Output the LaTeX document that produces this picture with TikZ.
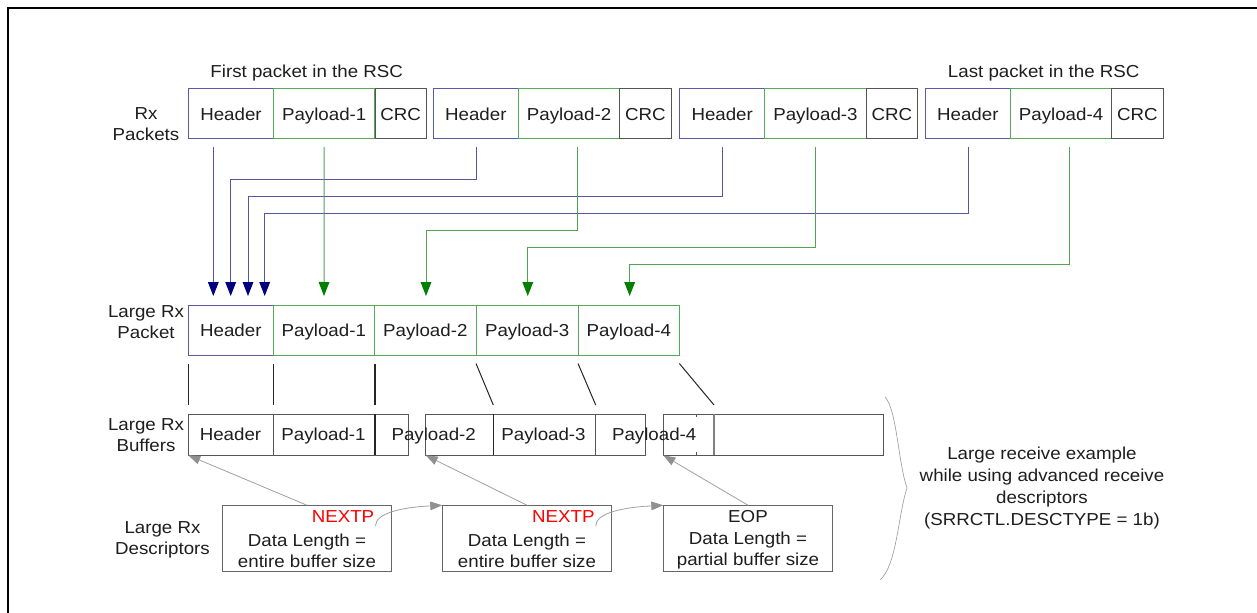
\documentclass[tikz,border=0pt]{standalone}
\usepackage{fontspec}
\setmainfont{Liberation Sans}[FakeStretch=1.08]
\usetikzlibrary{arrows.meta,calc}
\definecolor{hblue}{RGB}{90,90,170}
\definecolor{pgreen}{RGB}{85,170,85}
\definecolor{cgray}{RGB}{85,85,85}
\definecolor{cblue}{RGB}{85,85,165}
\definecolor{cgreen}{RGB}{80,165,80}
\definecolor{navyc}{RGB}{0,0,127}
\definecolor{dgreen}{RGB}{0,127,0}
\definecolor{lgray}{RGB}{160,160,160}
\definecolor{txt}{RGB}{30,30,30}
\tikzset{
  anybox/.style={draw, inner sep=0pt, outer sep=0pt, anchor=north west, line width=0.75pt, text=txt, minimum height=37.5pt, text height=9.3pt, text depth=0pt},
  hbox/.style={anybox, draw=hblue},
  pbox/.style={anybox, draw=pgreen},
  cbox/.style={anybox, draw=cgray},
  bufbox/.style={anybox, draw=cgray, minimum height=31pt, minimum width=165pt},
  descbox/.style={anybox, draw=cgray!90, minimum height=50pt, minimum width=127.2pt},
  lbl/.style={align=center, text=txt, inner sep=0pt},
  one/.style={lbl, text height=9.3pt, text depth=0pt},
  bconn/.style={draw=cblue, line width=0.75pt, -{Triangle[length=10.5pt,width=8pt,color=navyc]}},
  gconn/.style={draw=cgreen, line width=0.75pt, -{Triangle[length=10.5pt,width=8pt,color=dgreen]}},
  tie/.style={draw=black!85, line width=0.75pt},
  garrow/.style={draw=lgray, line width=0.6pt, -{Triangle[length=9pt,width=6.5pt,color=lgray!90!black]}},
  divider/.style={draw=cgray, line width=0.75pt}
}
\begin{document}
\begin{tikzpicture}[x=0.75pt,y=-0.75pt,font=\fontsize{13}{15.75}\selectfont]
\useasboundingbox (0,0) rectangle (1257,613);
\clip (0,0) rectangle (1257,613);
\fill[white] (0,0) rectangle (1257,613);
\draw[line width=1.5pt] (8,8) rectangle (1290,650);

% top row packets
\foreach \i/\s in {1/188.5,2/433.3,3/679.7,4/925.3}{
  \node[hbox, minimum width=63.75pt] (h\i) at (\s,89) {Header};
  \node[pbox, minimum width=76.1pt] (p\i) at (\s+85,89) {Payload-\i};
  \node[cbox, minimum width=38.5pt] (c\i) at (\s+186.5,89) {CRC};
}
\node[one] (first) at (306.7,71.5) {First packet in the RSC};
\node[one] (last) at (1043.7,71.5) {Last packet in the RSC};
\node[lbl] (rxl) at (146,124) {Rx\\Packets};

% large rx packet
\node[hbox, minimum width=63.75pt] (mh) at (188.3,305.5) {Header};
\node[pbox, minimum width=75.75pt] (mp1) at (273.3,305.5) {Payload-1};
\node[pbox, minimum width=76.5pt] (mp2) at (374.3,305.5) {Payload-2};
\node[pbox, minimum width=76.3pt] (mp3) at (476.3,305.5) {Payload-3};
\node[pbox, minimum width=76.3pt] (mp4) at (578,305.5) {Payload-4};
\node[lbl] (lpl) at (146,322.5) {Large Rx\\Packet};

% header connectors
\draw[bconn] ($(h1.south west)+(24.8,8)$) -- ($(mh.north west)+(25,-9.5)$);
\draw[bconn] ($(h2.south)+(0.5,8)$) -- ++(0,33) -| ($(mh.north west)+(42.4,-9.5)$);
\draw[bconn] ($(h3.south)+(0,8)$) -- ++(0,50) -| ($(mh.north west)+(59.7,-9.5)$);
\draw[bconn] ($(h4.south)+(0.3,8)$) -- ++(0,67) -| ($(mh.north west)+(76.4,-9.5)$);
% payload connectors
\draw[gconn] ($(p1.south)+(0,8)$) -- ($(mp1.north)+(0.2,-9.5)$);
\draw[gconn] ($(p2.south)+(8.4,8)$) -- ++(0,83.5) -| ($(mp2.north)+(0.7,-9.5)$);
\draw[gconn] ($(p3.south)+(0.1,8)$) -- ++(0,100.3) -| ($(mp3.north)+(0.6,-9.5)$);
\draw[gconn] ($(p4.south)+(8.5,8)$) -- ++(0,117) -| ($(mp4.north)+(0.8,-9.5)$);

% buffers
\node[bufbox] (buf1) at (188.3,414) {};
\node[bufbox, minimum width=165.2pt] (buf2) at (425.7,414) {};
\node[bufbox] (buf3) at (663.3,414) {};
\draw[divider] ($(buf1.north west)+(85,0)$) -- ($(buf1.south west)+(85,0)$);
\draw[divider, draw=black!85, line width=1.2pt] ($(buf1.north west)+(186.7,0)$) -- ($(buf1.south west)+(186.7,0)$);
\draw[divider, draw=black!85] ($(buf2.north west)+(67.6,0)$) -- ($(buf2.south west)+(67.6,0)$);
\draw[divider] ($(buf2.north west)+(170,0)$) -- ($(buf2.south west)+(170,0)$);
\draw[divider, draw=gray, line width=1.2pt] ($(buf3.north west)+(50.7,0)$) -- ($(buf3.south west)+(50.7,0)$);
\draw[divider] ($(buf3.north west)+(33.4,0)$) -- ++(0,3);
\draw[divider] ($(buf3.south west)+(33.4,0)$) -- ++(0,-3);
\node[one] (bt0) at (230.5,434) {Header};
\node[one] (bt1) at (323.5,434) {Payload-1};
\node[one] (bt2) at (433.7,434) {Payload-2};
\node[one] (bt3) at (543.5,434) {Payload-3};
\node[one] (bt4) at (654.2,434) {Payload-4};
\node[lbl] (lbl3) at (146,435.5) {Large Rx\\Buffers};

% ties between packet and buffers
\draw[tie] ($(mh.south west)+(0,8)$) -- ($(buf1.north west)+(0,-9)$);
\draw[tie] ($(mh.south east)+(0,8)$) -- ($(buf1.north west)+(85,-9)$);
\draw[tie, line width=1.2pt] ($(mp1.south east)+(0.7,8)$) -- ($(buf1.north west)+(186.7,-9)$);
\draw[tie] ($(mp2.south east)+(-0.3,8)$) -- ($(buf2.north west)+(67.6,-9)$);
\draw[tie] ($(mp3.south east)+(0,8)$) -- ($(buf2.north west)+(170,-9)$);
\draw[tie] ($(mp4.south east)+(-0.4,8)$) -- ($(buf3.north west)+(50.7,-9)$);

% descriptors
\node[descbox] (d1) at (222.3,505.3) {};
\node[descbox] (d2) at (442.3,505.3) {};
\node[descbox] (d3) at (663.3,505.3) {};
\node[one, text=red] (n1) at (343,516.5) {NEXTP};
\node[one, text=red] (n2) at (563.3,516.5) {NEXTP};
\node[one] (eop) at (748,516.5) {EOP};
\node[lbl] (d1t) at (307,550.5) {Data Length =\\entire buffer size};
\node[lbl] (d2t) at (527,550.5) {Data Length =\\entire buffer size};
\node[lbl] (d3t) at (748,550.5) {Data Length =\\partial buffer size};
\node[lbl] (lbl4) at (162.5,540) {Large Rx\\Descriptors};

\draw[garrow] (d1.north) -- (buf1.south west);
\draw[garrow] (d2.north) -- (buf2.south west);
\draw[garrow] (d3.north) -- (buf3.south west);
\draw[garrow] ($(n1.south east)+(1,3)$) .. controls +(0,-13) and +(-40,2) .. (d2.north west);
\draw[garrow] ($(n2.south east)+(1,3)$) .. controls +(0,-13) and +(-40,2) .. (d3.north west);

% brace and note
\draw[lgray, line width=0.5pt] (885,397) .. controls (897,410) and (898,462) .. (907,488) .. controls (898,515) and (897,565) .. (880,580);
\node[lbl, font=\fontsize{13}{16.5}\selectfont] (note) at (1042,488) {Large receive example\\while using advanced receive\\descriptors\\(SRRCTL.DESCTYPE = 1b)};
\end{tikzpicture}
\end{document}
